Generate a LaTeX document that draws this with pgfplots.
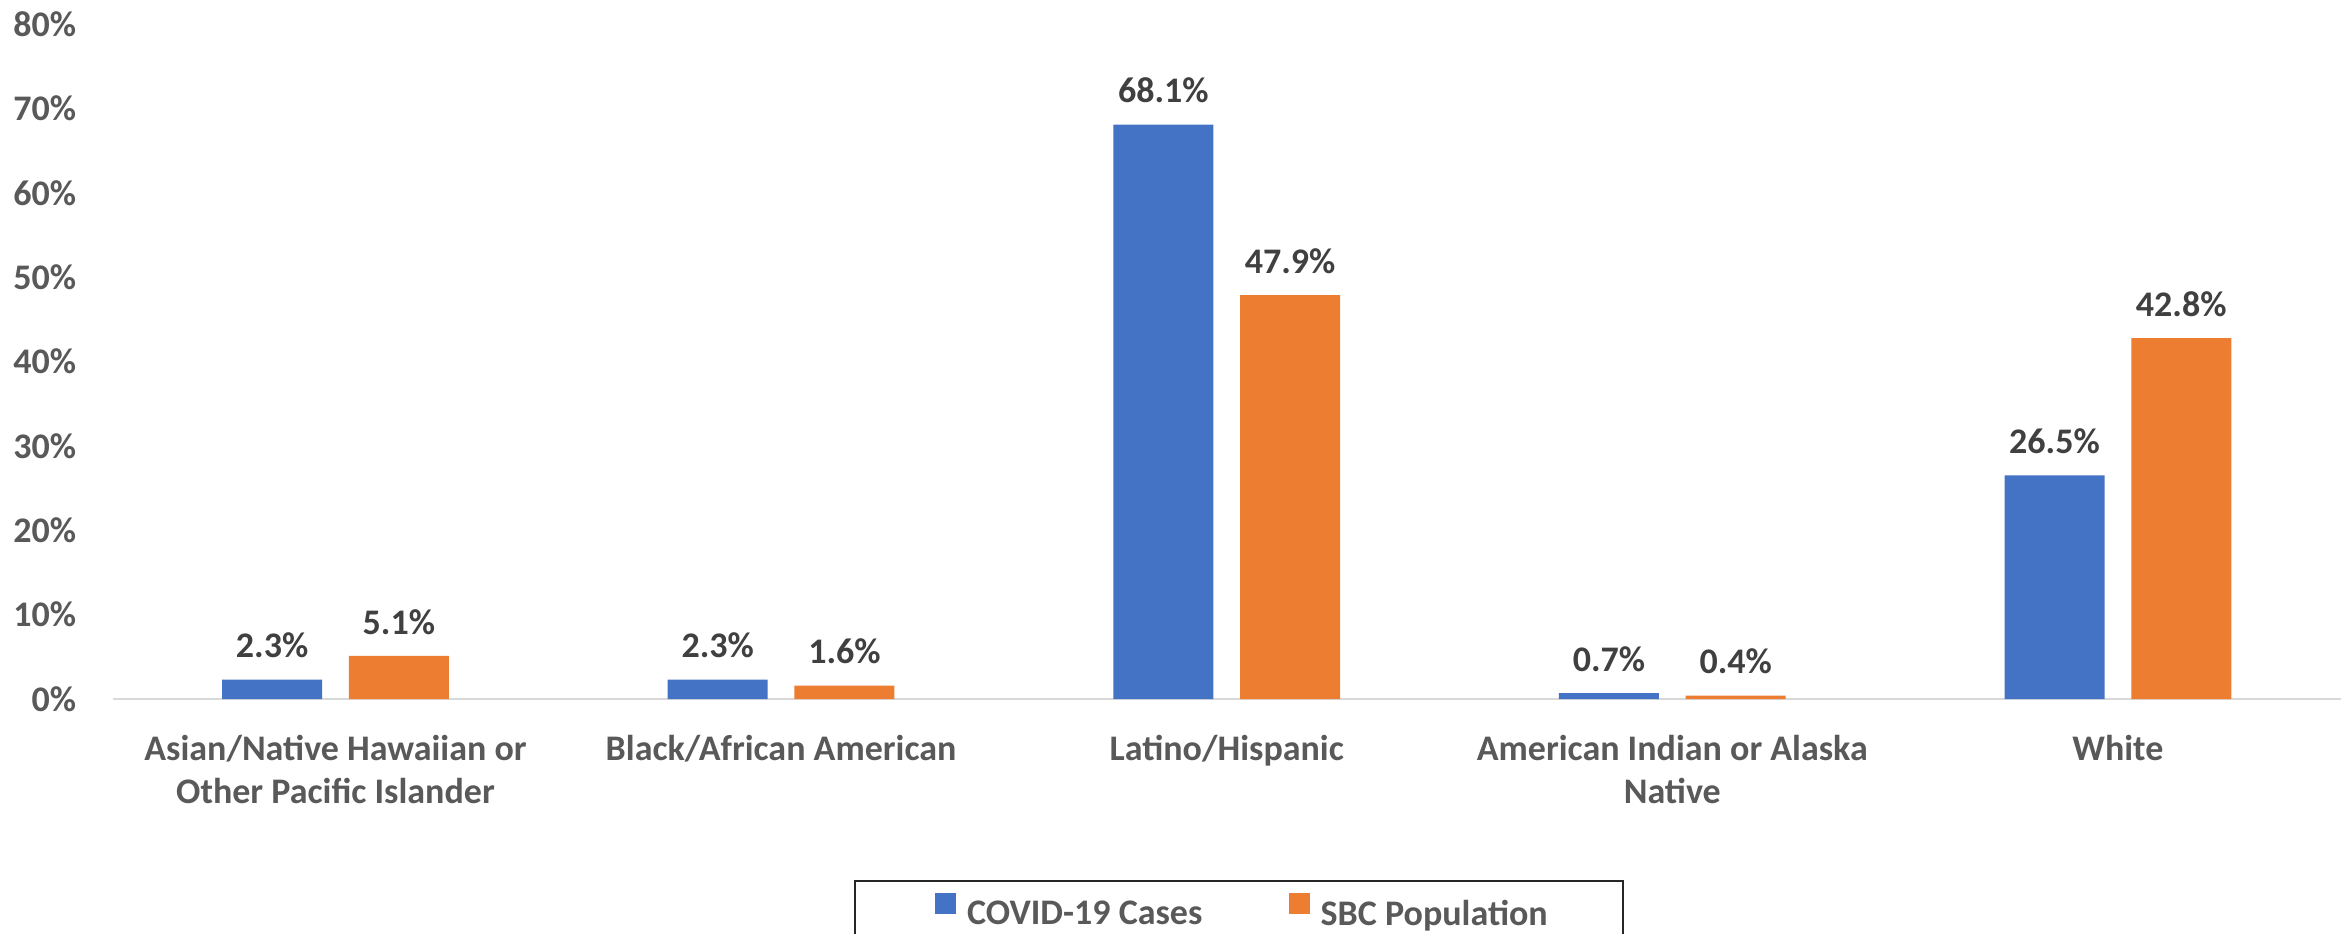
\documentclass[border=0pt]{standalone}
\usepackage{fontspec}
\setmainfont{Carlito}
\usepackage{pgfplots}
\pgfplotsset{compat=1.18}
\definecolor{cblue}{HTML}{4472C4}
\definecolor{corange}{HTML}{ED7D31}
\definecolor{textgray}{HTML}{595959}
\definecolor{labgray}{HTML}{404040}
\definecolor{axgray}{HTML}{D9D9D9}
\newcommand\cf{\fontsize{14.4}{17.2}\selectfont\bfseries}
\begin{document}
\begin{tikzpicture}
\useasboundingbox (0pt,0pt) rectangle (940.4pt,373.2pt);
\begin{axis}[
  at={(45.08pt,93.6pt)}, anchor=south west, scale only axis,
  width=891.2pt, height=269.9pt,
  xmin=-0.5, xmax=4.5, ymin=0, ymax=80,
  enlargelimits=false, clip=false,
  ybar=10.7pt, bar width=40pt,
  axis x line*=bottom, axis y line*=left,
  x axis line style={draw=axgray, line width=0.8pt},
  y axis line style={draw=none},
  major tick length=0pt,
  xtick={0,1,2,3,4},
  xticklabels={{Asian/Native Hawaiian or\\Other Pacific Islander},{Black/African American},{Latino/Hispanic},{American Indian or Alaska\\Native},{White}},
  xticklabel style={align=center, anchor=north, inner sep=0pt, yshift=-14.4pt, font=\cf, text=textgray},
  ytick={0,10,20,30,40,50,60,70,80},
  yticklabels={0\%,10\%,20\%,30\%,40\%,50\%,60\%,70\%,80\%},
  yticklabel style={anchor=east, inner sep=0pt, xshift=-14.4pt, font=\cf, text=textgray},
  /pgf/number format/assume math mode=true,
  nodes near coords={\pgfmathprintnumber[fixed,fixed zerofill,precision=1]{\pgfplotspointmeta}\%},
  nodes near coords style={font=\cf, text=labgray, inner sep=0pt, yshift=8.4pt},
  legend columns=2,
  legend image code/.code={\fill[#1] (0pt,0.4pt) rectangle (8.4pt,8.8pt);},
  legend style={at={(rel axis cs:0.3691,-0.3142)}, anchor=west, draw=none, fill=none,
    inner sep=0pt, outer sep=0pt, font=\cf, text=textgray,
    nodes={inner sep=0pt, text=textgray},
    /tikz/every odd column/.append style={column sep=4.4pt},
    /tikz/every even column/.append style={column sep=34.5pt}},
]
\addplot[fill=cblue, draw=none] coordinates {(0,2.3) (1,2.3) (2,68.1) (3,0.7) (4,26.5)};
\addplot[fill=corange, draw=none] coordinates {(0,5.1) (1,1.6) (2,47.9) (3,0.4) (4,42.8)};
\legend{COVID-19 Cases, SBC Population}
\end{axis}
\draw[line width=0.7pt, black!85] (342pt,-10pt) rectangle (649.2pt,20.8pt);
\end{tikzpicture}
\end{document}
